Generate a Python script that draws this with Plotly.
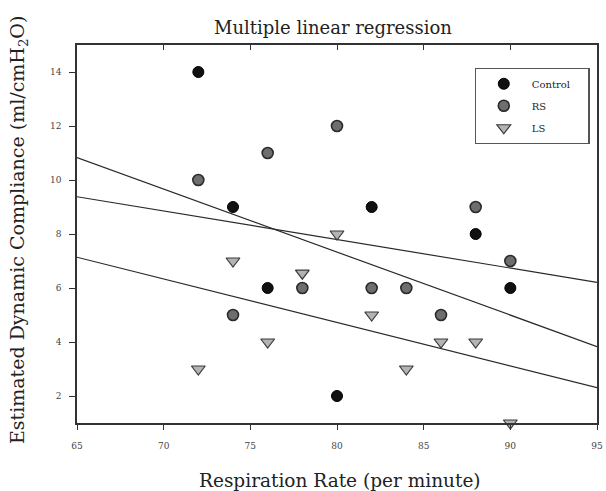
import plotly.graph_objects as go

# ---- data ----
control_x = [72, 74, 76, 80, 82, 88, 90]
control_y = [14, 9, 6, 2, 9, 8, 6]

rs_x = [72, 74, 76, 78, 80, 82, 84, 86, 88, 90]
rs_y = [10, 5, 11, 6, 12, 6, 6, 5, 9, 7]

ls_x = [72, 74, 76, 78, 80, 82, 84, 86, 88, 90]
ls_y = [3, 7, 4, 6.55, 8, 5, 3, 4, 4, 1]

fit_x = [65, 95]
fit_a_y = [10.83, 3.83]
fit_b_y = [9.38, 6.21]
fit_c_y = [7.14, 2.31]

x_ticks = [65, 70, 75, 80, 85, 90, 95]
y_ticks = [2, 4, 6, 8, 10, 12, 14]

SERIF = "DejaVu Serif"
PAD = "\u00a0" * 4

fig = go.Figure()

for fy in (fit_a_y, fit_b_y, fit_c_y):
    fig.add_trace(go.Scatter(x=fit_x, y=fy, mode="lines",
                             line=dict(color="#2a2a2a", width=1.2),
                             showlegend=False, hoverinfo="skip"))

fig.add_trace(go.Scatter(x=control_x, y=control_y, mode="markers", name="Control" + PAD,
                         legendgroup="c",
                         marker=dict(symbol="circle", size=11, color="#111111",
                                     line=dict(color="#000000", width=1)),
                         cliponaxis=False))
fig.add_trace(go.Scatter(x=rs_x, y=rs_y, mode="markers", name="RS",
                         legendgroup="r",
                         marker=dict(symbol="circle", size=11, color="#6e6e6e",
                                     line=dict(color="#2b2b2b", width=1.6)),
                         cliponaxis=False))
fig.add_trace(go.Scatter(x=ls_x, y=ls_y, mode="markers", name="LS",
                         legendgroup="l",
                         marker=dict(symbol="triangle-down", size=12, color="#b3b3b3",
                                     line=dict(color="#3a3a3a", width=1.2)),
                         cliponaxis=False))

axis_common = dict(showgrid=False, zeroline=False, showline=True,
                   linecolor="#333333", linewidth=1.5,
                   tickfont=dict(family=SERIF, size=9, color="#444444"))

fig.update_layout(
    width=606, height=491,
    margin=dict(l=77, r=3, t=45, b=68),
    paper_bgcolor="white", plot_bgcolor="white",
    font=dict(family=SERIF, color="#222222"),
    xaxis=dict(range=[65, 95], tickvals=x_ticks, ticks="outside", ticklen=5,
               tickcolor="#333333", mirror=True, ticklabelstandoff=8,
               ticklabeloverflow="allow", **axis_common),
    xaxis2=dict(range=[65, 95], overlaying="x", side="top", tickvals=x_ticks,
                ticks="inside", ticklen=5, tickcolor="#333333",
                showticklabels=False, showgrid=False, zeroline=False,
                showline=False),
    yaxis=dict(range=[1, 15], tickvals=y_ticks, ticks="outside", ticklen=6,
               tickcolor="#333333", mirror=True, ticklabelstandoff=6, **axis_common),
    legend=dict(x=0.7646, y=0.939, xanchor="left", yanchor="top",
                bordercolor="#555555", borderwidth=1.2, bgcolor="white",
                font=dict(family=SERIF, size=10, color="#222222"),
                tracegroupgap=3, itemwidth=46),
    showlegend=True,
    annotations=[
        dict(text="Multiple linear regression", xref="paper", yref="paper",
             x=0.492, y=1.0476, xanchor="center", yanchor="middle", showarrow=False,
             font=dict(family=SERIF, size=18, color="#222222")),
        dict(text="Respiration Rate (per minute)", xref="paper", yref="paper",
             x=0.5057, y=-0.1525, xanchor="center", yanchor="middle", showarrow=False,
             font=dict(family=SERIF, size=18.5, color="#222222")),
        dict(text="Estimated Dynamic Compliance (ml/cmH<sub>2</sub>O)", xref="paper",
             yref="paper", x=-0.111, y=0.511, xanchor="center", yanchor="middle",
             textangle=-90, showarrow=False,
             font=dict(family=SERIF, size=19, color="#222222")),
    ],
)

# dummy trace to activate the top axis ticks
fig.add_trace(go.Scatter(x=[None], y=[None], xaxis="x2", showlegend=False,
                         hoverinfo="skip"))

fig.write_html("out.html",
               config={"displayModeBar": False},
               post_script="document.body.style.margin='0';")
